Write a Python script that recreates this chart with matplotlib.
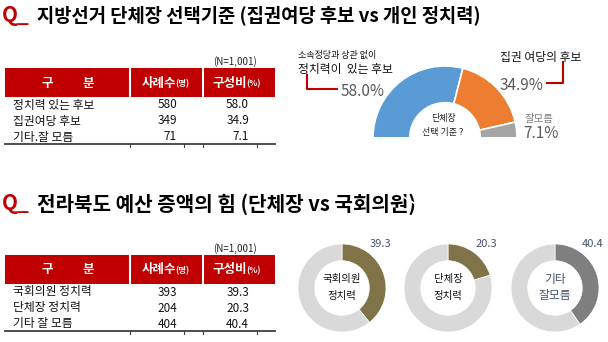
import matplotlib.pyplot as plt

plt.rcParams['font.family'] = ['Noto Sans CJK KR', 'DejaVu Sans']

# data
title1 = "지방선거 단체장 선택기준 (집권여당 후보 vs 개인 정치력)"
title2 = "전라북도 예산 증액의 힘 (단체장 vs 국회의원)"
rows1 = ["정치력 있는 후보", "집권여당 후보", "기타.잘 모름"]
counts1 = [580, 349, 71]
pct1 = [58.0, 34.9, 7.1]
rows2 = ["국회의원 정치력", "단체장 정치력", "기타 잘 모름"]
counts2 = [393, 204, 404]
pct2 = [39.3, 20.3, 40.4]
donut_names = [["국회의원", "정치력"], ["단체장", "정치력"], ["기타", "잘모름"]]

RED = "#c00000"
W, H = 608, 342

fig = plt.figure(figsize=(W / 100, H / 100), dpi=100)
ax = fig.add_axes([0, 0, 1, 1])
ax.set_xlim(0, W)
ax.set_ylim(H, 0)
ax.axis("off")


def sub_axes(cx, cy, r):
    a = fig.add_axes([(cx - r) / W, (H - cy - r) / H, 2 * r / W, 2 * r / H])
    return a


def fix(a):
    a.set_xlim(-1, 1)
    a.set_ylim(-1, 1)
    a.axis("off")


def title(y, text, fs):
    ax.text(2, y, "Q_", color=RED, fontsize=15, fontweight="heavy", va="center", ha="left")
    ax.text(37, y, text, color="black", fontsize=fs, fontweight="heavy", va="center", ha="left")


def table(top, names, counts, pcts):
    ax.text(235, top - 6, "(N=1,001)", fontsize=7, ha="center", va="center", color="#222222")
    ax.add_patch(plt.Rectangle((5, top), 270, 29, color=RED, lw=0))
    for x in [130, 203]:
        ax.plot([x, x], [top, top + 29], color="white", lw=1.5)
    yc = top + 15
    ax.text(47, yc, "구", color="white", fontsize=9, fontweight="heavy", ha="center", va="center")
    ax.text(88, yc, "분", color="white", fontsize=9, fontweight="heavy", ha="center", va="center")
    ax.text(176, yc, "사례수", color="white", fontsize=9, fontweight="heavy", ha="right", va="center")
    ax.text(175, yc + 1, "(명)", color="white", fontsize=6, fontweight="bold", ha="left", va="center")
    ax.text(247, yc, "구성비", color="white", fontsize=9, fontweight="heavy", ha="right", va="center")
    ax.text(246, yc + 1, "(%)", color="white", fontsize=6, fontweight="bold", ha="left", va="center")
    for i in range(len(names)):
        y = top + 37 + i * 16
        ax.text(13, y, names[i], fontsize=8.5, ha="left", va="center", color="#111111")
        ax.text(177, y, str(counts[i]), fontsize=8.5, ha="right", va="center", color="#111111")
        ax.text(249, y, "%.1f" % pcts[i], fontsize=8.5, ha="right", va="center", color="#111111")
    yb = top + 76
    ax.plot([5, 275], [yb, yb], color="#404040", lw=1.3)
    for x in [130, 184, 203, 257]:
        ax.plot([x, x], [yb, yb + 3], color="#404040", lw=0.8)


title(15, title1, 13.5)
title(204, title2, 14.5)
table(68, rows1, counts1, pct1)
table(255, rows2, counts2, pct2)

# half donut
hax = sub_axes(445, 138, 72)
hax.pie(pct1 + [100], radius=1, startangle=180, counterclock=False,
        colors=["#5b9bd5", "#ed7d31", "#a5a5a5", "none"],
        wedgeprops=dict(width=0.51, edgecolor="white", linewidth=1.2))
fix(hax)
ax.text(443, 118, "단체장", fontsize=6.5, ha="center", va="center", color="#222222")
ax.text(443, 133, "선택 기준 ?", fontsize=6.5, ha="center", va="center", color="#222222")

ax.text(298, 55, "소속정당과 상관 없이", fontsize=6.5, ha="left", va="center", color="#111111")
ax.text(298, 70, "정치력이  있는 후보", fontsize=8.5, ha="left", va="center", color="#111111")
ax.plot([307, 307, 337], [75, 89, 89], color=RED, lw=1.5)
ax.text(341, 91, "%.1f%%" % pct1[0], fontsize=11, ha="left", va="center", color="#595959")

ax.text(500, 57, "집권 여당의 후보", fontsize=8.5, ha="left", va="center", color="#111111")
ax.plot([563, 563, 547], [62, 83, 83], color=RED, lw=1.5)
ax.text(543, 85, "%.1f%%" % pct1[1], fontsize=11, ha="right", va="center", color="#595959")

ax.text(525, 119, "잘모름", fontsize=7.5, ha="left", va="center", color="#7f7f7f")
ax.text(523, 133, "%.1f%%" % pct1[2], fontsize=11, ha="left", va="center", color="#595959")

# small donuts
centers = [342, 448, 555]
ring_colors = ["#7f7347", "#7f7347", "#7f7f7f"]
for i in range(3):
    dax = sub_axes(centers[i], 288, 44)
    dax.pie([pct2[i], 100 - pct2[i]], radius=1, startangle=90, counterclock=False,
            colors=[ring_colors[i], "#d9d9d9"],
            wedgeprops=dict(width=0.38, edgecolor="white", linewidth=0.5))
    fix(dax)
    tc = "#44546a" if i == 2 else "#111111"
    fs = 8.5 if i == 2 else 7.5
    ax.text(centers[i], 279, donut_names[i][0], fontsize=fs, ha="center", va="center", color=tc)
    ax.text(centers[i], 296, donut_names[i][1], fontsize=fs, ha="center", va="center", color=tc)
    ax.text(centers[i] + 38, 244, "%.1f" % pct2[i], fontsize=8, ha="center", va="center",
            color="#44546a")

fig.savefig("out.png", dpi=100)
